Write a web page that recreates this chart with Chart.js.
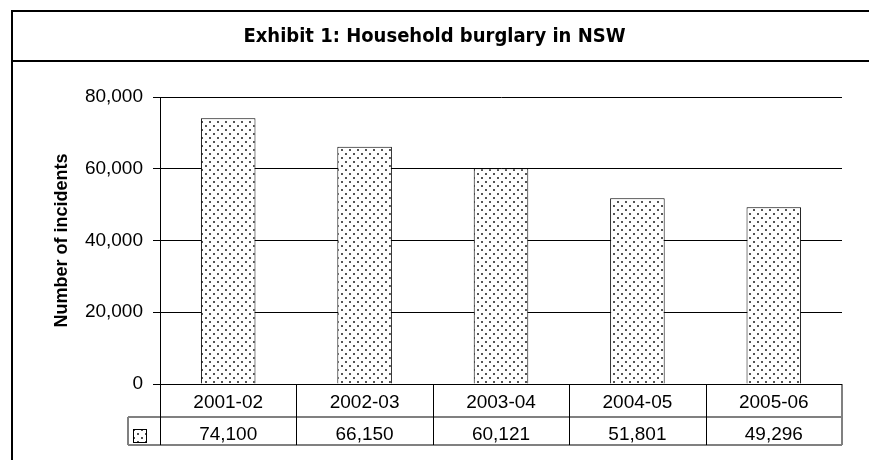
<!DOCTYPE html>
<html>
<head>
<meta charset="utf-8">
<script src="https://cdn.jsdelivr.net/npm/chart.js@4/dist/chart.umd.min.js"></script>
<style>
  html, body { margin: 0; padding: 0; background: #fff; }
</style>
</head>
<body>
<canvas id="chart" width="869" height="460"></canvas>
<script>
// --- Data ---
const years = ['2001-02', '2002-03', '2003-04', '2004-05', '2005-06'];
const incidents = [74100, 66150, 60121, 51801, 49296];
const yTicks = [0, 20000, 40000, 60000, 80000];
const chartTitle = 'Exhibit 1: Household burglary in NSW';
const yAxisTitle = 'Number of incidents';

const canvas = document.getElementById('chart');
const ctx = canvas.getContext('2d');

// Dotted fill like the old Excel pattern
function makeDots() {
    const tile = document.createElement('canvas');
    tile.width = 8;
    tile.height = 8;
    const g = tile.getContext('2d');
    g.fillStyle = '#fff';
    g.fillRect(0, 0, 8, 8);
    g.fillStyle = '#555';
    g.fillRect(1, 1, 2, 2);
    g.fillRect(5, 5, 2, 2);
    return ctx.createPattern(tile, 'repeat');
}
const dots = makeDots();

const fmt = v => v.toLocaleString('en-US');

// Frame round the chart, line under the title and the data table
const tablePlugin = {
    id: 'tablePlugin',
    afterDraw(chart) {
        const c = chart.ctx;
        const x = chart.scales.x;
        const area = chart.chartArea;
        const headTop = area.bottom;
        const rowTop = 417;
        const rowBottom = 445;
        const keyLeft = 128;

        c.save();
        // outer frame
        c.strokeStyle = '#000';
        c.lineWidth = 2;
        c.beginPath();
        c.moveTo(12, 470);
        c.lineTo(12, 11);
        c.lineTo(880, 11);
        c.moveTo(12, 61);
        c.lineTo(880, 61);
        c.stroke();

        // cell edges
        const edges = [area.left];
        for (let i = 1; i < years.length; i++) {
            edges.push(Math.round((x.getPixelForValue(i - 1) + x.getPixelForValue(i)) / 2));
        }
        edges.push(area.right);

        c.lineWidth = 2;
        c.strokeStyle = '#808080';
        c.beginPath();
        c.moveTo(keyLeft, rowTop);
        c.lineTo(area.right, rowTop);
        c.moveTo(keyLeft, rowBottom);
        c.lineTo(area.right, rowBottom);
        c.moveTo(keyLeft, rowTop);
        c.lineTo(keyLeft, rowBottom);
        c.moveTo(area.right, headTop);
        c.lineTo(area.right, rowBottom);
        c.stroke();

        c.lineWidth = 1;
        c.strokeStyle = '#000';
        c.beginPath();
        for (let i = 0; i < edges.length - 1; i++) {
            c.moveTo(edges[i] + 0.5, headTop);
            c.lineTo(edges[i] + 0.5, rowBottom);
        }
        c.moveTo(area.left, headTop + 0.5);
        c.lineTo(area.right, headTop + 0.5);
        c.stroke();

        // legend key
        c.fillStyle = dots;
        c.fillRect(134, 430, 12, 12);
        c.strokeStyle = '#000';
        c.strokeRect(133.5, 429.5, 13, 13);

        // values row
        c.fillStyle = '#000';
        c.font = '19px "Liberation Sans", Arial, sans-serif';
        c.textAlign = 'center';
        c.textBaseline = 'middle';
        incidents.forEach((v, i) => {
            c.fillText(fmt(v), x.getPixelForValue(i), 435);
        });
        c.restore();
    }
};

new Chart(canvas, {
    type: 'bar',
    data: {
        labels: years,
        datasets: [{
            label: 'Incidents',
            data: incidents,
            backgroundColor: dots,
            borderColor: '#000',
            borderWidth: 1,
            barPercentage: 0.4,
            categoryPercentage: 1.0
        }]
    },
    options: {
        responsive: false,
        animation: false,
        layout: {
            padding: { left: 27, right: 27, top: 0, bottom: 0 }
        },
        plugins: {
            legend: { display: false },
            tooltip: { enabled: false },
            title: {
                display: true,
                text: chartTitle,
                color: '#000',
                font: { family: '"DejaVu Sans Condensed", "DejaVu Sans", sans-serif', size: 20, weight: 'bold' },
                padding: { top: 25, bottom: 48 }
            }
        },
        scales: {
            x: {
                grid: { display: false, drawTicks: false },
                border: { display: false },
                ticks: {
                    color: '#000',
                    padding: 7,
                    font: { family: '"Liberation Sans", Arial, sans-serif', size: 19 }
                },
                afterFit(scale) { scale.height = 76; }
            },
            y: {
                min: 0,
                max: 80000,
                afterBuildTicks(scale) {
                    scale.ticks = yTicks.map(v => ({ value: v }));
                },
                grid: { color: '#000', tickLength: 7 },
                border: { display: true, color: '#000' },
                ticks: {
                    color: '#000',
                    padding: 10,
                    font: { family: '"Liberation Sans", Arial, sans-serif', size: 19 },
                    callback: v => fmt(v)
                },
                title: {
                    display: true,
                    text: yAxisTitle,
                    color: '#000',
                    padding: { top: 24 },
                    font: { family: '"Liberation Sans", Arial, sans-serif', size: 18, weight: 'bold' }
                },
                afterFit(scale) { scale.width = 133; }
            }
        }
    },
    plugins: [tablePlugin]
});
</script>
</body>
</html>
